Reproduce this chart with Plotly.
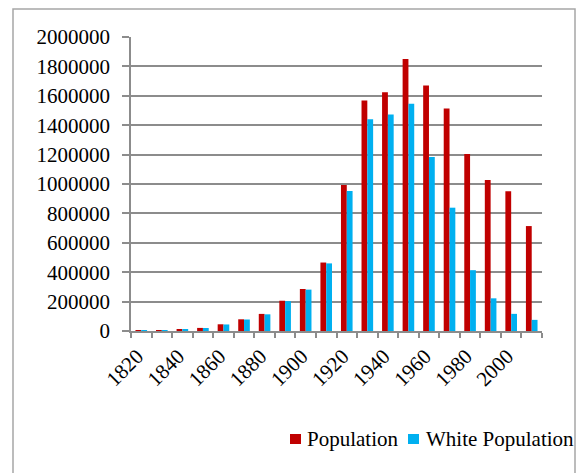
import plotly.graph_objects as go

# Census years and counts
years = [1820, 1830, 1840, 1850, 1860, 1870, 1880, 1890, 1900, 1910,
         1920, 1930, 1940, 1950, 1960, 1970, 1980, 1990, 2000, 2010]
population = [1422, 2222, 9102, 21019, 45619, 79577, 116340, 205876, 285704, 465766,
              993678, 1568662, 1623452, 1849568, 1670144, 1514063, 1203339, 1027974,
              951270, 713777]
white_population = [1400, 2150, 8900, 20500, 44500, 78200, 113500, 203000, 281500, 459926,
                    952065, 1440141, 1472662, 1545847, 1182970, 838877, 413730, 222316,
                    116599, 75758]
series_names = ["Population", "White Population"]
series_colors = ["#C00000", "#00B0F0"]

label_years = list(range(1820, 2001, 20))
boundaries = [y - 5 for y in years] + [years[-1] + 5]

W, H = 577, 473
L, R, T, B = 131, 542, 37, 331
pw, ph = R - L, B - T


def px(x):
    return (x - L) / pw


def py(y):
    return (B - y) / ph


FONT = "Liberation Serif"
FSIZE = 21
GRID = "#8c8c8c"

fig = go.Figure()
for name, vals, col in zip(series_names, [population, white_population], series_colors):
    fig.add_trace(go.Bar(x=years, y=vals, name=name, marker_color=col,
                         marker_line_width=0, showlegend=False))

fig.update_layout(
    width=W, height=H,
    margin=dict(l=L, r=W - R, t=T, b=H - B),
    paper_bgcolor="white", plot_bgcolor="white",
    barmode="group", bargap=0.435, bargroupgap=0,
    font=dict(family=FONT, size=FSIZE, color="#000000"),
    xaxis=dict(
        range=[boundaries[0], boundaries[-1]],
        tickmode="array", tickvals=label_years, ticktext=[str(v) for v in label_years],
        ticks="", tickangle=-45, showgrid=False, zeroline=False,
        tickfont=dict(family=FONT, size=FSIZE, color="#000000"),
        ticklabelshift=-4, ticklabelstandoff=3,
        showline=True, linecolor=GRID, linewidth=1.5,
        minor=dict(tickmode="array", tickvals=boundaries, ticks="outside",
                   ticklen=5, tickwidth=1.5, tickcolor=GRID, showgrid=False),
    ),
    yaxis=dict(
        range=[0, 2000000], dtick=200000, tickformat="d",
        tickfont=dict(family=FONT, size=FSIZE, color="#000000"),
        showgrid=True, gridcolor=GRID, gridwidth=1.5,
        ticks="outside", ticklen=7, tickwidth=1.5, tickcolor=GRID,
        ticklabelstandoff=8,
        showline=True, linecolor=GRID, linewidth=1.5, zeroline=False,
    ),
)

# chart frame
fig.add_shape(type="rect", xref="paper", yref="paper",
              x0=px(13), x1=px(575), y0=py(490), y1=py(9),
              line=dict(color="#a6a6a6", width=1.5), layer="below")

# legend
legend_items = [(290, 306), (408, 425)]
for (sx, tx), name, col in zip(legend_items, series_names, series_colors):
    fig.add_shape(type="rect", xref="paper", yref="paper",
                  x0=px(sx), x1=px(sx + 11), y0=py(444), y1=py(434),
                  fillcolor=col, line_width=0)
    fig.add_annotation(xref="paper", yref="paper", x=px(tx), y=py(439),
                       xanchor="left", yanchor="middle", text=name, showarrow=False,
                       font=dict(family=FONT, size=FSIZE, color="#000000"), borderpad=0)

fig.write_html("out.html")
